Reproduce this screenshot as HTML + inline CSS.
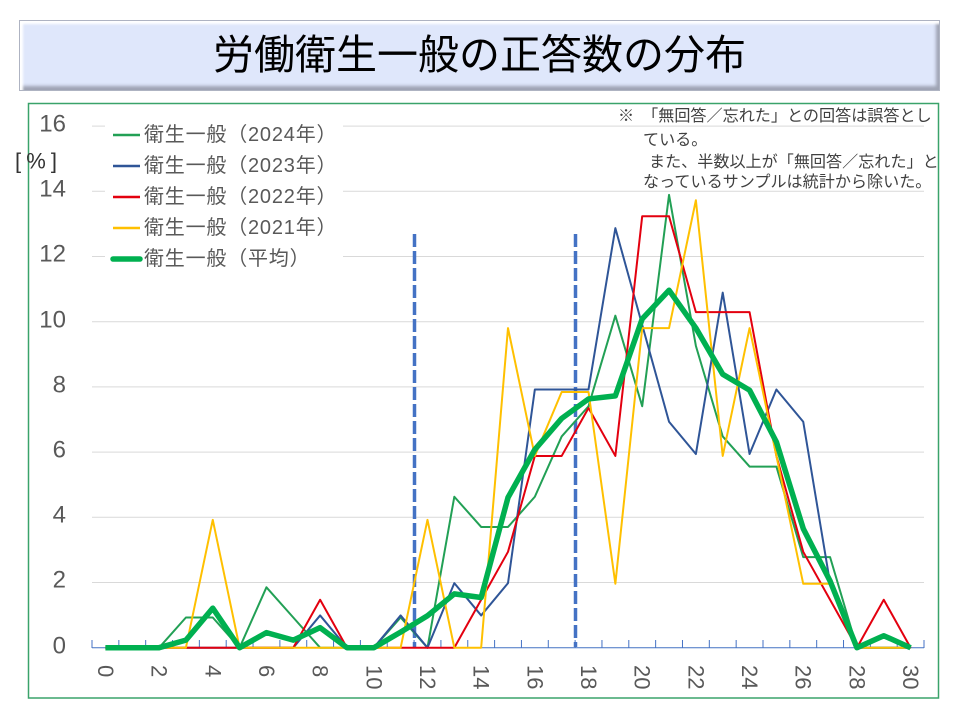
<!DOCTYPE html>
<html>
<head>
<meta charset="utf-8">
<style>
  html, body { margin: 0; padding: 0; background: #ffffff; }
  body { width: 960px; height: 720px; position: relative; overflow: hidden; }
  .title {
    position: absolute; left: 19px; top: 20px; width: 921px; height: 71px;
    box-sizing: border-box;
    background: #dfe7fb;
    border: 1px solid #aeb3c2;
    box-shadow: inset 3px 3px 2px #ffffff, inset -3px -4px 3px #9ea3b3;
    text-align: center;
    font-family: "Liberation Sans", "Noto Sans CJK JP", sans-serif;
    font-size: 41px; line-height: 69px; color: #000;
  }
  svg { position: absolute; left: 0; top: 0; }
</style>
</head>
<body>
<div class="title">労働衛生一般の正答数の分布</div>
<svg width="960" height="720" viewBox="0 0 960 720" xmlns="http://www.w3.org/2000/svg">
  <!-- chart frame -->
  <rect x="28.5" y="103.5" width="910" height="594.5" fill="#ffffff" stroke="#3aa36a" stroke-width="1.5"/>

  <!-- gridlines -->
  <g stroke="#d9d9d9" stroke-width="1">
    <line x1="92" y1="126.1" x2="924" y2="126.1"/>
    <line x1="92" y1="191.3" x2="924" y2="191.3"/>
    <line x1="92" y1="256.5" x2="924" y2="256.5"/>
    <line x1="92" y1="321.7" x2="924" y2="321.7"/>
    <line x1="92" y1="386.9" x2="924" y2="386.9"/>
    <line x1="92" y1="452.1" x2="924" y2="452.1"/>
    <line x1="92" y1="517.3" x2="924" y2="517.3"/>
    <line x1="92" y1="582.5" x2="924" y2="582.5"/>
  </g>

  <!-- y labels -->
  <g font-family="Liberation Sans, sans-serif" font-size="24" fill="#595959" text-anchor="end" dominant-baseline="central">
    <text x="66" y="124">16</text>
    <text x="66" y="189">14</text>
    <text x="66" y="254">12</text>
    <text x="66" y="320">10</text>
    <text x="66" y="385">8</text>
    <text x="66" y="450">6</text>
    <text x="66" y="515">4</text>
    <text x="66" y="580">2</text>
    <text x="66" y="646">0</text>
  </g>
  <text x="15" y="161" font-family="Liberation Sans, sans-serif" font-size="22" fill="#333333" dominant-baseline="central" textLength="42" lengthAdjust="spacing">[%]</text>

  <!-- x axis -->
  <g stroke="#4472c4" stroke-width="1">
    <line x1="92" y1="647.7" x2="924" y2="647.7"/>
    <path d="M92 640V648M118.84 640V648M145.68 640V648M172.52 640V648M199.36 640V648M226.2 640V648M253.04 640V648M279.88 640V648M306.72 640V648M333.56 640V648M360.4 640V648M387.24 640V648M414.08 640V648M440.92 640V648M467.76 640V648M494.6 640V648M521.44 640V648M548.28 640V648M575.12 640V648M601.96 640V648M628.8 640V648M655.64 640V648M682.48 640V648M709.32 640V648M736.16 640V648M763 640V648M789.84 640V648M816.68 640V648M843.52 640V648M870.36 640V648M897.2 640V648M924 640V648" fill="none"/>
  </g>

  <!-- x labels -->
  <g font-family="Liberation Sans, sans-serif" font-size="22" fill="#595959" dominant-baseline="central">
    <text transform="translate(105.4 665) rotate(90)">0</text>
    <text transform="translate(159.1 665) rotate(90)">2</text>
    <text transform="translate(212.8 665) rotate(90)">4</text>
    <text transform="translate(266.4 665) rotate(90)">6</text>
    <text transform="translate(320.1 665) rotate(90)">8</text>
    <text transform="translate(373.8 665) rotate(90)">10</text>
    <text transform="translate(427.5 665) rotate(90)">12</text>
    <text transform="translate(481.2 665) rotate(90)">14</text>
    <text transform="translate(534.8 665) rotate(90)">16</text>
    <text transform="translate(588.5 665) rotate(90)">18</text>
    <text transform="translate(642.2 665) rotate(90)">20</text>
    <text transform="translate(695.9 665) rotate(90)">22</text>
    <text transform="translate(749.6 665) rotate(90)">24</text>
    <text transform="translate(803.2 665) rotate(90)">26</text>
    <text transform="translate(856.9 665) rotate(90)">28</text>
    <text transform="translate(910.6 665) rotate(90)">30</text>
  </g>

  <!-- dashed markers -->
  <g stroke="#4472c4" stroke-width="3.5" stroke-dasharray="13 4">
    <line x1="414.5" y1="234" x2="414.5" y2="647"/>
    <line x1="575.5" y1="234" x2="575.5" y2="647"/>
  </g>

  <!-- series -->
  <g transform="translate(105.4 647.7) scale(26.84 -32.6)" fill="none" stroke-linejoin="round">
    <polyline vector-effect="non-scaling-stroke" stroke="#22a055" stroke-width="2"
      points="0,0 1,0 2,0 3,.926 4,.926 5,0 6,1.852 7,.926 8,0 9,0 10,0 11,.926 12,0 13,4.630 14,3.704 15,3.704 16,4.630 17,6.481 18,7.407 19,10.185 20,7.407 21,13.889 22,9.259 23,6.481 24,5.556 25,5.556 26,2.778 27,2.778 28,0 29,0 30,0"/>
    <polyline vector-effect="non-scaling-stroke" stroke="#2f5597" stroke-width="2"
      points="0,0 1,0 2,0 3,0 4,0 5,0 6,0 7,0 8,.990 9,0 10,0 11,.990 12,0 13,1.980 14,.990 15,1.980 16,7.921 17,7.921 18,7.921 19,12.871 20,9.901 21,6.931 22,5.941 23,10.891 24,5.941 25,7.921 26,6.931 27,1.980 28,0 29,0 30,0"/>
    <polyline vector-effect="non-scaling-stroke" stroke="#e3000f" stroke-width="2"
      points="0,0 1,0 2,0 3,0 4,0 5,0 6,0 7,0 8,1.471 9,0 10,0 11,0 12,0 13,0 14,1.471 15,2.941 16,5.882 17,5.882 18,7.353 19,5.882 20,13.235 21,13.235 22,10.294 23,10.294 24,10.294 25,5.882 26,2.941 27,1.471 28,0 29,1.471 30,0"/>
    <polyline vector-effect="non-scaling-stroke" stroke="#ffc000" stroke-width="2"
      points="0,0 1,0 2,0 3,0 4,3.922 5,0 6,0 7,0 8,0 9,0 10,0 11,0 12,3.922 13,0 14,0 15,9.804 16,5.882 17,7.843 18,7.843 19,1.961 20,9.804 21,9.804 22,13.725 23,5.882 24,9.804 25,5.882 26,1.961 27,1.961 28,0 29,0 30,0"/>
    <polyline vector-effect="non-scaling-stroke" stroke="#00b050" stroke-width="5.5"
      points="0,0 1,0 2,0 3,.2315 4,1.212 5,0 6,.463 7,.2315 8,.615 9,0 10,0 11,.479 12,.980 13,1.652 14,1.541 15,4.607 16,6.079 17,7.032 18,7.631 19,7.725 20,10.087 21,10.965 22,9.805 23,8.387 24,7.899 25,6.310 26,3.653 27,2.047 28,0 29,.368 30,0"/>
  </g>

  <!-- legend -->
  <rect x="105" y="117" width="238" height="154" fill="#ffffff"/>
  <g font-family="Liberation Sans, Noto Sans CJK JP, sans-serif" font-size="20" fill="#595959" dominant-baseline="central" letter-spacing="0.8">
    <line x1="113" y1="135" x2="140" y2="135" stroke="#22a055" stroke-width="2.5"/>
    <text x="144" y="135">衛生一般（2024年）</text>
    <line x1="113" y1="166" x2="140" y2="166" stroke="#2f5597" stroke-width="2.5"/>
    <text x="144" y="166">衛生一般（2023年）</text>
    <line x1="113" y1="197" x2="140" y2="197" stroke="#e3000f" stroke-width="2.5"/>
    <text x="144" y="197">衛生一般（2022年）</text>
    <line x1="113" y1="228" x2="140" y2="228" stroke="#ffc000" stroke-width="2.5"/>
    <text x="144" y="228">衛生一般（2021年）</text>
    <line x1="113" y1="259" x2="140" y2="259" stroke="#00b050" stroke-width="5.5" stroke-linecap="round"/>
    <text x="144" y="259">衛生一般（平均）</text>
  </g>

  <!-- note -->
  <g font-family="Liberation Sans, Noto Sans CJK JP, sans-serif" font-size="16.1" fill="#404040" dominant-baseline="central">
    <text x="618" y="116">※　「無回答／忘れた」との回答は誤答とし</text>
    <text x="643" y="140">ている。</text>
    <text x="649" y="162">また、半数以上が「無回答／忘れた」と</text>
    <text x="643" y="182">なっているサンプルは統計から除いた。</text>
  </g>
</svg>
</body>
</html>
